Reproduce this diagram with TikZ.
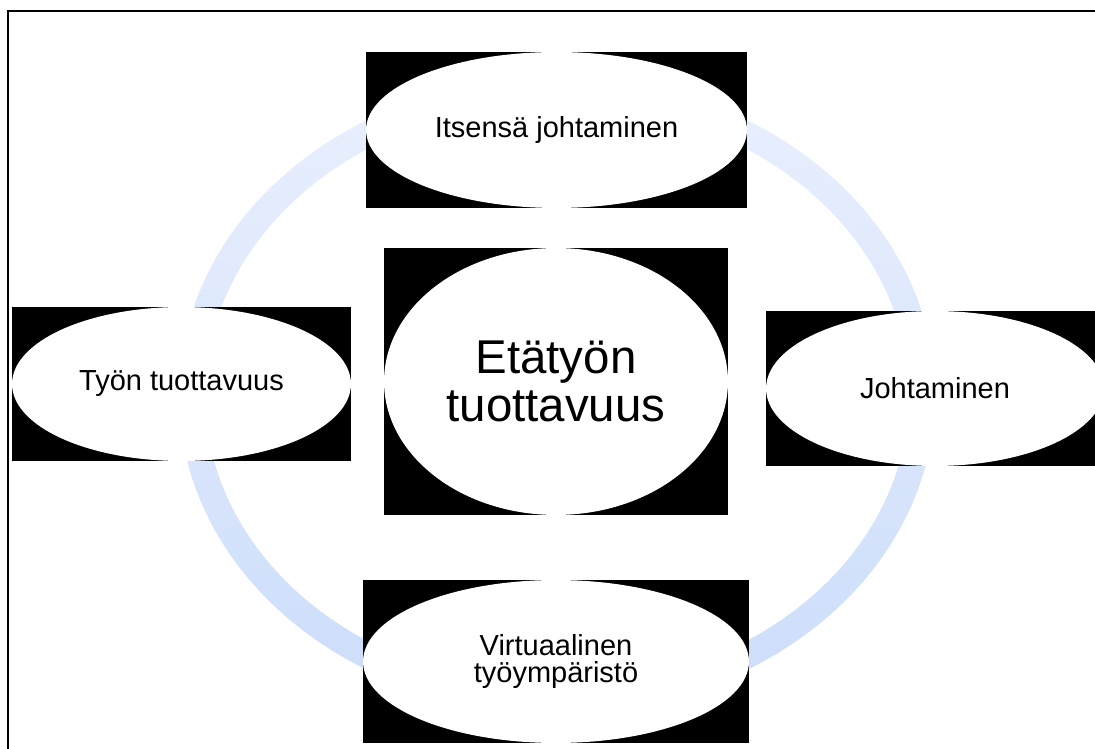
\documentclass[tikz,border=0pt]{standalone}
\usepackage{fontspec}
\setmainfont{Liberation Sans}
\usetikzlibrary{shapes.geometric}
\definecolor{rengasyla}{RGB}{233,240,253}
\definecolor{rengasala}{RGB}{204,221,250}

\begin{document}
\begin{tikzpicture}[x=0.02cm,y=-0.02cm,
        pallo/.style={ellipse,fill=white,inner sep=0pt,align=center,font=\fontsize{16.5}{15.9}\selectfont},
        isopallo/.style={pallo,font=\fontsize{27}{27.3}\selectfont}]
    \useasboundingbox (0,0) rectangle (1095,749);
    \clip (0,0) rectangle (1095,749);
    \draw [line width=0.8pt] (8,11) rectangle (1120,770);
    % rengas
    \shade [even odd rule,top color=rengasyla,bottom color=rengasala] (557,395) ellipse (7.56cm and 6.36cm) (557,395) ellipse (7.04cm and 5.84cm);
    % mustat laatikot
    \fill (366,52) rectangle (747,208);
    \fill (384,248) rectangle (728,515);
    \fill (12,307) rectangle (351,461);
    \fill (766,311) rectangle (1104,466);
    \fill (363,580) rectangle (749,743);
    \node [pallo,minimum width=7.62cm,minimum height=3.12cm] (itse) at (556.5,130) {Itsensä johtaminen};
    \node [isopallo,minimum width=6.88cm,minimum height=5.34cm] (keski) at (556,381.5) {Etätyön\\tuottavuus};
    \node [pallo,minimum width=6.78cm,minimum height=3.08cm] (tyo) at (181.5,384) {Työn tuottavuus};
    \node [pallo,minimum width=6.76cm,minimum height=3.1cm] (johto) at (935,388.5) {Johtaminen};
    \node [pallo,minimum width=7.72cm,minimum height=3.26cm] (virt) at (556,661.5) {Virtuaalinen\\työympäristö};
\end{tikzpicture}
\end{document}
